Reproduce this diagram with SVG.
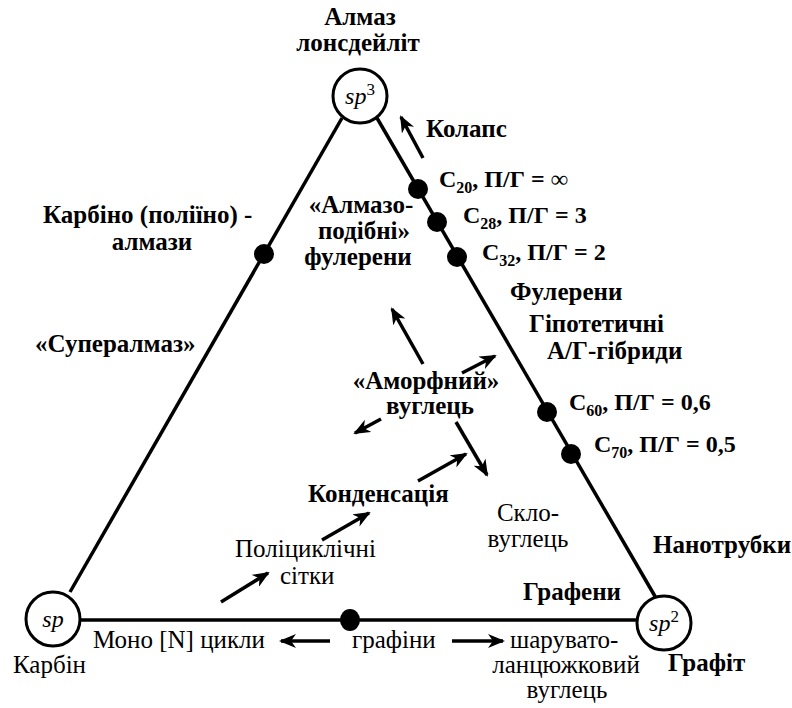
<svg xmlns="http://www.w3.org/2000/svg" width="792" height="708" viewBox="0 0 792 708">
<style>
text{font-family:"Liberation Serif","Times New Roman","Noto Serif","DejaVu Serif",serif;font-size:25px;fill:#000}
.b{font-weight:bold}
.r{font-weight:normal}
.m{text-anchor:middle}
.c{font-size:24px;font-weight:bold}
.sub{font-size:16px}
.sp{font-style:italic;font-size:24px;text-anchor:middle}
.edge{stroke:#000;stroke-width:3.5;fill:none}
.arr{stroke:#000;stroke-width:3.5;fill:none;marker-end:url(#ah)}
.vtx{fill:#fff;stroke:#000;stroke-width:3}
.dot{fill:#000}
</style>
<defs>
<marker id="ah" markerUnits="userSpaceOnUse" markerWidth="18" markerHeight="14" refX="15" refY="7" orient="auto">
<path d="M0,0 L17,7 L0,14 L5,7 Z" fill="#000"/>
</marker>
</defs>
<rect width="792" height="708" fill="#fff"/>

<g id="connectors">
<line class="edge" x1="342" y1="118" x2="70" y2="592"/>
<line class="edge" x1="377" y1="118" x2="656" y2="598"/>
<line class="edge" x1="80" y1="620" x2="637" y2="620"/>
<line class="arr" x1="423" y1="158" x2="401" y2="117"/>
<line class="arr" x1="423" y1="364" x2="392" y2="309"/>
<line class="arr" x1="462" y1="373" x2="495" y2="356"/>
<line class="arr" x1="381" y1="419" x2="355" y2="433"/>
<line class="arr" x1="456" y1="422" x2="487" y2="475"/>
<line class="arr" x1="418" y1="481" x2="466" y2="454"/>
<line class="arr" x1="322" y1="540" x2="369" y2="513"/>
<line class="arr" x1="221" y1="602" x2="268" y2="573"/>
<line class="arr" x1="330" y1="641" x2="281" y2="641"/>
<line class="arr" x1="452" y1="641" x2="503" y2="641"/>
</g>

<g id="node-sp3">
<circle class="vtx" cx="360" cy="96" r="27"/>
<text class="sp" x="360" y="104">sp<tspan font-style="normal" font-size="17" dy="-9">3</tspan></text>
<text class="b m" x="360" y="25">Алмаз</text>
<text class="b m" x="358" y="51">лонсдейліт</text>
</g>

<g id="node-sp">
<circle class="vtx" cx="53" cy="619" r="27"/>
<text class="sp" x="53" y="627">sp</text>
<text class="r" x="13" y="673">Карбін</text>
</g>

<g id="node-sp2">
<circle class="vtx" cx="664" cy="623" r="27"/>
<text class="sp" x="664" y="631">sp<tspan font-style="normal" font-size="17" dy="-9">2</tspan></text>
<text class="b" x="668" y="671">Графіт</text>
</g>

<g id="node-c20"><circle class="dot" cx="418" cy="189" r="10"/>
<text class="c" x="439" y="187">C<tspan class="sub" dy="6">20</tspan><tspan dy="-6">, П/Г = ∞</tspan></text></g>
<g id="node-c28"><circle class="dot" cx="437" cy="222" r="10"/>
<text class="c" x="463" y="223">C<tspan class="sub" dy="6">28</tspan><tspan dy="-6">, П/Г = 3</tspan></text></g>
<g id="node-c32"><circle class="dot" cx="457" cy="257" r="10"/>
<text class="c" x="482" y="260">C<tspan class="sub" dy="6">32</tspan><tspan dy="-6">, П/Г = 2</tspan></text></g>
<g id="node-c60"><circle class="dot" cx="547" cy="412" r="10"/>
<text class="c" x="569" y="410">C<tspan class="sub" dy="6">60</tspan><tspan dy="-6">, П/Г = 0,6</tspan></text></g>
<g id="node-c70"><circle class="dot" cx="571" cy="454" r="10"/>
<text class="c" x="594" y="452">C<tspan class="sub" dy="6">70</tspan><tspan dy="-6">, П/Г = 0,5</tspan></text></g>

<g id="node-carbino"><circle class="dot" cx="264" cy="254" r="10"/>
<text class="b" x="43" y="223">Карбіно (поліїно) -</text>
<text class="b m" x="152" y="250">алмази</text></g>

<g id="node-grafiny"><ellipse class="dot" cx="350" cy="620" rx="10" ry="11"/>
<text class="r" x="352" y="648">графіни</text></g>

<g id="labels">
<text class="b" x="426" y="137">Колапс</text>
<text class="b m" x="361" y="213">«Алмазо-</text>
<text class="b m" x="364" y="239">подібні»</text>
<text class="b m" x="358" y="265">фулерени</text>
<text class="b" x="35" y="352">«Супералмаз»</text>
<text class="b" x="510" y="300">Фулерени</text>
<text class="b" x="529" y="332">Гіпотетичні</text>
<text class="b" x="547" y="359">А/Г-гібриди</text>
<text class="b m" x="426" y="389">«Аморфний»</text>
<text class="b m" x="430" y="414">вуглець</text>
<text class="b" x="308" y="502">Конденсація</text>
<text class="r m" x="528" y="521">Скло-</text>
<text class="r m" x="528" y="547">вуглець</text>
<text class="r" x="235" y="557">Поліциклічні</text>
<text class="r" x="280" y="584">сітки</text>
<text class="b" x="653" y="553">Нанотрубки</text>
<text class="b" x="523" y="600">Графени</text>
<text class="r" x="93" y="648">Моно [N] цикли</text>
<text class="r" x="510" y="648">шарувато-</text>
<text class="r m" x="566" y="673">ланцюжковий</text>
<text class="r m" x="567" y="698">вуглець</text>
</g>
</svg>
